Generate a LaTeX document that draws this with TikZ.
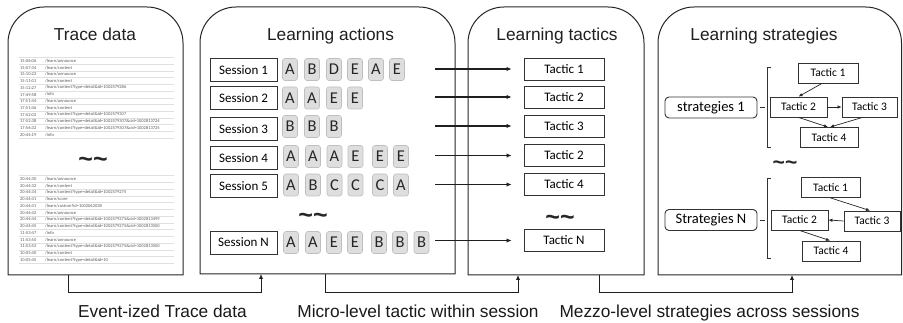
\documentclass[tikz,border=0pt]{standalone}
\usepackage{fontspec}
\setmainfont{Liberation Sans}
\newfontfamily\carlito{Carlito}
\usetikzlibrary{arrows.meta}
\newcommand{\panelshape}[4]{\draw[panel] (#1,150) [rounded corners=36pt] -- (#1,#2) -- (#3,#2) -- (#3,150) [sharp corners] -- (#3,#4) -- (#1,#4) -- cycle;}
\newcommand{\trrow}[4]{\node[trt] (tt#1) at (20,#2) {#3}; \node[trp] (tp#1) at (45,#2) {#4}; \draw[trl] (19,#2+3.3) -- (174,#2+3.3);}
\begin{document}
\begin{tikzpicture}[x=1pt,y=-1pt,
  panel/.style={line width=1pt, draw=black!85},
  title/.style={font=\fontsize{17.3}{20}\selectfont, anchor=base, text=black!88, inner sep=0},
  bottomlbl/.style={font=\fontsize{17.3}{20}\selectfont, anchor=base, text=black!90, inner sep=0},
  sess/.style={draw=black!80, line width=0.9pt, minimum width=67pt, minimum height=23pt, inner sep=0, font=\carlito\fontsize{13}{15}\selectfont},
  letter/.style={draw=black!25, fill=black!13, rounded corners=2.5pt, line width=0.6pt, minimum width=15pt, minimum height=22pt, inner sep=0, font=\carlito\fontsize{16.5}{18}\selectfont, text=black!85},
  tac/.style={draw=black!80, line width=0.9pt, minimum width=80pt, minimum height=22pt, inner sep=0, font=\carlito\fontsize{13}{15}\selectfont},
  stac/.style={draw=black!80, line width=0.8pt, minimum height=20pt, inner sep=0, font=\carlito\fontsize{11.5}{13}\selectfont},
  strat/.style={draw=black!80, rounded corners=4pt, line width=0.9pt, minimum width=92pt, minimum height=21pt, inner sep=0, font=\carlito\fontsize{14.5}{16}\selectfont},
  arr/.style={-{Latex[length=5pt,width=4.5pt]}, line width=1.1pt, draw=black!88},
  sarr/.style={-{Latex[length=4pt,width=3.5pt]}, line width=0.7pt, draw=black!85},
  tilde/.style={font=\bfseries\fontsize{25}{25}\selectfont, inner sep=0, text=black!85},
  trt/.style={anchor=west, inner sep=0, font=\carlito\fontsize{4.5}{5}\selectfont, text=black!65},
  trp/.style={anchor=west, inner sep=0, font=\carlito\fontsize{4.5}{5}\selectfont, text=black!65},
  trl/.style={draw=black!12, line width=0.4pt}
]
\useasboundingbox (0,0) rectangle (903,323);

% panels
\panelshape{8}{7}{183}{275}
\panelshape{200}{7}{455}{274}
\panelshape{468}{7}{644}{275}
\panelshape{658}{7}{901.5}{275}

% titles
\node[title] (t1) at (95,40.5) {Trace data};
\node[title] (t2) at (330.5,41) {Learning actions};
\node[title] (t3) at (557,41) {Learning tactics};
\node[title] (t4) at (764,41) {Learning strategies};

% trace data rows
\draw[trl] (19,57.7) -- (174,57.7);
\trrow{1}{61}{15:06:06}{/learn/announce}
\trrow{2}{67.7}{15:07:34}{/learn/content}
\trrow{3}{74.4}{15:10:22}{/learn/announce}
\trrow{4}{81.1}{15:11:01}{/learn/content}
\trrow{5}{87.8}{15:12:27}{/learn/content?type=detail\&id=1002579286}
\trrow{6}{94.5}{17:49:58}{/info}
\trrow{7}{101.2}{17:51:44}{/learn/announce}
\trrow{8}{107.9}{17:51:46}{/learn/content}
\trrow{9}{114.6}{17:52:02}{/learn/content?type=detail\&id=1002579307}
\trrow{10}{121.3}{17:52:38}{/learn/content?type=detail\&id=1002579307\&cid=1002813724}
\trrow{11}{128}{17:56:32}{/learn/content?type=detail\&id=1002579307\&cid=1002813725}
\trrow{12}{134.7}{20:44:19}{/info}
\node[tilde] (trtil) at (93,162) {\textasciitilde\textasciitilde};
\draw[trl] (19,175.7) -- (174,175.7);
\trrow{13}{179}{20:44:30}{/learn/announce}
\trrow{14}{185.75}{20:44:32}{/learn/content}
\trrow{15}{192.5}{20:44:34}{/learn/content?type=detail\&id=1002579275}
\trrow{16}{199.25}{20:44:41}{/learn/score}
\trrow{17}{206}{20:44:41}{/learn/custom?id=1002062038}
\trrow{18}{212.75}{20:44:42}{/learn/announce}
\trrow{19}{219.5}{20:44:44}{/learn/content?type=detail\&id=1002579275\&cid=1002813499}
\trrow{20}{226.25}{20:44:45}{/learn/content?type=detail\&id=1002579275\&cid=1002813500}
\trrow{21}{233}{11:53:47}{/info}
\trrow{22}{239.75}{11:53:50}{/learn/announce}
\trrow{23}{246.5}{11:53:52}{/learn/content?type=detail\&id=1002579275\&cid=1002813500}
\trrow{24}{253.25}{10:05:40}{/learn/content}
\trrow{25}{260}{10:05:45}{/learn/content?type=detail\&id=10}

% sessions
\node[sess] (s1) at (243.5,70) {Session 1};
\node[sess] (s2) at (243.5,98) {Session 2};
\node[sess] (s3) at (243.5,129) {Session 3};
\node[sess] (s4) at (243.5,158) {Session 4};
\node[sess] (s5) at (243.5,186) {Session 5};
\node[sess] (sN) at (243.5,242.5) {Session N};

\foreach \x/\l [count=\k] in {290/A,312/B,334/D,355/E,376/A,397/E}
  \node[letter] (ra\k) at (\x,69.5) {\l};
\foreach \x/\l [count=\k] in {290/A,312/A,334/E,355/E}
  \node[letter] (rb\k) at (\x,98) {\l};
\foreach \x/\l [count=\k] in {290/B,312/B,334/B}
  \node[letter] (rc\k) at (\x,126.5) {\l};
\foreach \x/\l [count=\k] in {291/A,313/A,334.5/A,355.5/E,380/E,401/E}
  \node[letter] (rd\k) at (\x,156.5) {\l};
\foreach \x/\l [count=\k] in {291/A,313/B,334.5/C,355.5/C,380/C,401/A}
  \node[letter] (re\k) at (\x,185) {\l};
\foreach \x/\l [count=\k] in {291/A,313/A,334/E,355/E,379/B,400/B,421.5/B}
  \node[letter] (rn\k) at (\x,242.5) {\l};
\node[tilde] (actil) at (313,218) {\textasciitilde\textasciitilde};

% tactics
\node[tac] (tc1) at (564,69) {Tactic 1};
\node[tac] (tc2) at (564,97) {Tactic 2};
\node[tac] (tc3) at (564,126) {Tactic 3};
\node[tac] (tc4) at (564,155.5) {Tactic 2};
\node[tac] (tc5) at (564,184.5) {Tactic 4};
\node[tac] (tcN) at (564,240.5) {Tactic N};
\node[tilde] (tctil) at (560,220) {\textasciitilde\textasciitilde};

\foreach \n/\y in {1/69,2/97,3/126,4/155.5,5/184.5,N/240.5}{
  \coordinate (as\n) at (435,\y);
  \draw[arr, shorten >=12pt] (as\n) -- (tc\n.west);
}

% strategies
\node[strat] (sg1) at (711,107.5) {strategies 1};
\draw[line width=0.7pt, draw=black!80] (771,67) -- (767,67) -- (767,147) -- (771,147);
\draw[line width=0.7pt, draw=black!80] ([xshift=3pt]sg1.east) -- ++(5,0);
\node[stac, minimum width=60pt] (p1a) at (828,73) {Tactic 1};
\node[stac, minimum width=57pt] (p1b) at (798.5,107) {Tactic 2};
\node[stac, minimum width=55pt] (p1c) at (869.5,107) {Tactic 3};
\node[stac, minimum width=58pt] (p1d) at (829,137.5) {Tactic 4};
\draw[sarr] ([xshift=-6pt]p1a.south) -- (p1b.north);
\draw[sarr] (p1b.east) -- (p1c.west);
\draw[sarr] (p1b.south) -- ([xshift=-1pt]p1d.north);
\draw[sarr] ([xshift=-7pt]p1c.south) -- ([xshift=1pt]p1d.north);

\node[tilde, font=\bfseries\fontsize{21}{21}\selectfont] (sgtil) at (785,165) {\textasciitilde\textasciitilde};

\node[strat] (sgN) at (711,220) {Strategies N};
\draw[line width=0.7pt, draw=black!80] (771,178) -- (767,178) -- (767,258) -- (771,258);
\draw[line width=0.7pt, draw=black!80] ([xshift=3pt]sgN.east) -- ++(5,0);
\node[stac, minimum width=59pt] (pNa) at (830.5,187.5) {Tactic 1};
\node[stac, minimum width=57pt] (pNb) at (799.5,220) {Tactic 2};
\node[stac, minimum width=56pt] (pNc) at (872,221) {Tactic 3};
\node[stac, minimum width=58pt] (pNd) at (831,251) {Tactic 4};
\draw[sarr] (pNa.south) -- ([xshift=-2pt]pNc.north);
\draw[sarr] (pNc.west) -- (pNb.east);
\draw[sarr] (pNb.south) -- ([xshift=-1pt]pNd.north);

% bottom connectors
\coordinate (p1out) at (68,275);
\coordinate (p2in) at (261,274);
\coordinate (p2out) at (325,274);
\coordinate (p3in) at (518,275);
\coordinate (p3out) at (599,275);
\coordinate (p4in) at (792,275);
\draw[arr, line width=0.9pt] (p1out) -- ++(0,17) -| (p2in);
\draw[arr, line width=0.9pt] (p2out) -- ++(0,18) -| (p3in);
\draw[arr, line width=0.9pt] (p3out) -- ++(0,17) -| (p4in);

% bottom labels
\node[bottomlbl] (b1) at (162.5,317) {Event-ized Trace data};
\node[bottomlbl] (b2) at (418,317) {Micro-level tactic within session};
\node[bottomlbl] (b3) at (709.5,317) {Mezzo-level strategies across sessions};
\end{tikzpicture}
\end{document}
